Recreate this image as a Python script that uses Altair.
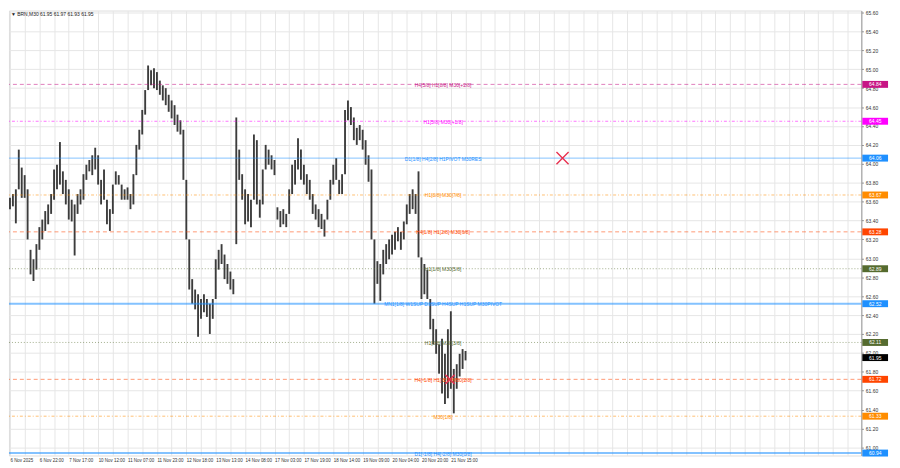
import json
import altair as alt
import pandas as pd

# ---------------- data ----------------
# M30 candles (grouped), highs and lows in price units, oldest -> newest
bar_hi = [63.64, 63.68, 63.73, 64.15, 63.96, 63.88, 63.73, 63.09, 62.99, 63.15,
          63.33, 63.41, 63.50, 63.57, 63.68, 63.94, 63.99, 64.23, 63.92, 63.83,
          63.73, 63.62, 63.57, 63.68, 63.73, 63.89, 63.99, 64.04, 64.09, 64.17,
          64.09, 63.83, 63.94, 63.62, 63.52, 63.78, 63.92, 63.88, 63.78, 63.73,
          63.75, 63.68, 63.89, 64.20, 64.36, 64.57, 64.78, 65.04, 64.99, 65.01,
          64.97, 64.88, 64.83, 64.80, 64.73, 64.67, 64.62, 64.52, 64.46, 64.36,
          63.83, 63.20, 62.78, 62.67, 62.62, 62.57, 62.62, 62.57, 62.52, 62.57,
          62.99, 63.09, 63.15, 63.04, 62.94, 62.86, 62.78, 64.49, 64.15, 63.89,
          63.73, 63.68, 63.62, 64.31, 64.25, 63.62, 63.94, 64.20, 64.15, 64.09,
          64.04, 63.54, 63.50, 63.52, 63.47, 63.73, 63.99, 64.04, 64.27, 64.15,
          63.99, 63.89, 63.83, 63.68, 63.57, 63.52, 63.47, 63.41, 63.62, 63.83,
          63.99, 64.06, 63.83, 63.89, 64.57, 64.67, 64.60, 64.49, 64.38, 64.41,
          64.36, 64.25, 64.09, 63.94, 63.20, 62.97, 62.94, 63.09, 63.15, 63.20,
          63.25, 63.28, 63.33, 63.28, 63.39, 63.57, 63.68, 63.73, 63.68, 63.92,
          63.01, 62.94, 62.88, 62.57, 62.36, 62.25, 62.09, 62.15, 61.99, 62.25,
          62.44, 61.83, 61.88, 61.99, 62.04, 62.02]
bar_lo = [63.52, 63.55, 63.37, 63.73, 63.64, 63.64, 63.20, 62.83, 62.76, 62.88,
          63.09, 63.20, 63.29, 63.36, 63.47, 63.62, 63.73, 63.78, 63.68, 63.57,
          63.41, 63.39, 63.03, 63.47, 63.57, 63.62, 63.83, 63.92, 63.88, 63.94,
          63.78, 63.57, 63.62, 63.36, 63.29, 63.47, 63.78, 63.78, 63.62, 63.62,
          63.62, 63.52, 63.57, 63.88, 64.15, 64.31, 64.52, 64.78, 64.83, 64.80,
          64.78, 64.73, 64.67, 64.62, 64.55, 64.48, 64.41, 64.34, 64.31, 63.83,
          63.20, 62.67, 62.52, 62.46, 62.17, 62.36, 62.43, 62.38, 62.20, 62.36,
          62.57, 62.88, 62.94, 62.78, 62.73, 62.67, 62.62, 63.15, 63.83, 63.62,
          63.36, 63.39, 63.33, 63.62, 63.57, 63.43, 63.57, 63.94, 63.99, 63.94,
          63.88, 63.41, 63.33, 63.36, 63.33, 63.47, 63.68, 63.78, 63.94, 63.83,
          63.78, 63.68, 63.62, 63.47, 63.41, 63.33, 63.31, 63.23, 63.41, 63.62,
          63.78, 63.83, 63.68, 63.68, 63.89, 64.46, 64.41, 64.25, 64.20, 64.25,
          64.15, 63.99, 63.81, 63.20, 62.52, 62.73, 62.55, 62.83, 62.94, 62.99,
          63.04, 63.09, 63.18, 63.09, 63.20, 63.36, 63.47, 63.52, 63.47, 63.01,
          62.57, 62.62, 62.57, 62.25, 62.09, 61.99, 61.78, 61.57, 61.46, 61.52,
          61.62, 61.36, 61.62, 61.75, 61.83, 61.92]

time_labels = ["6 Nov 2025", "6 Nov 22:00", "7 Nov 17:00", "10 Nov 12:00",
               "11 Nov 07:00", "11 Nov 23:00", "12 Nov 18:00", "13 Nov 13:00",
               "14 Nov 08:00", "17 Nov 03:00", "17 Nov 19:00", "18 Nov 14:00",
               "19 Nov 09:00", "20 Nov 04:00", "20 Nov 20:00", "21 Nov 15:00"]

level_prices = [64.84, 64.45, 64.06, 63.67, 63.28, 62.89, 62.52, 62.11, 61.72, 61.33, 60.94]
level_names = ["H4[5/8] H1[8/8] M30[+2/8]",
               "H1[5/8] M30[+1/8]",
               "D1[1/8] H4[2/8] H1PIVOT M30RES",
               "H1[3/8] M30[7/8]",
               "H4[1/8] H1[2/8] M30[6/8]",
               "H1[1/8] M30[5/8]",
               "MN1[1/8] W1SUP D1SUP H4SUP H1SUP M30PIVOT",
               "H1[0/8] M30[3/8]",
               "H4[-1/8] H1[-1/8] M30[2/8]",
               "M30[1/8]",
               "D1[-1/8] H4[-2/8] M30[0/8]"]
level_colors = ["#C71585", "#FF00FF", "#1E90FF", "#FF8C00", "#FF4500", "#556B2F",
                "#1E90FF", "#556B2F", "#FF4500", "#FF8C00", "#1E90FF"]
level_dash = [[4, 3], [3, 2, 1, 2], [], [3, 2, 1, 2], [4, 3], [1, 2],
              [], [1, 2], [4, 3], [3, 2, 1, 2], []]
level_width = [1, 1, 1, 1, 1, 1, 2, 1, 1, 1, 2]

current_price = 61.95
title_text = "BRN,M30  61.95 61.97 61.93 61.95"

cross_bar = [188.0, 149.7]
cross_price = [64.06, 61.72]
cross_size = [150, 90]

# ---------------- chart ----------------
W, H = 862, 450
X_DOM = [-1 / 3, 289.67]
Y_DOM = [60.914, 65.621]
FONT = "Liberation Sans"

bars = pd.DataFrame({"i": list(range(len(bar_hi))), "hi": bar_hi, "lo": bar_lo})
levels = pd.DataFrame({"p": level_prices, "name": level_names, "c": level_colors})
crosses = pd.DataFrame({"i": cross_bar, "p": cross_price, "s": cross_size})

xs = alt.Scale(domain=X_DOM, nice=False, zero=False)
ys = alt.Scale(domain=Y_DOM, nice=False, zero=False)

label_expr = ("datum.value % 10 == 0 ? (" + json.dumps(time_labels) +
              "[datum.value / 10] || '') : ''")

x_axis = alt.Axis(values=list(range(0, 290, 5)), labelExpr=label_expr, grid=True,
                  gridColor="#e6e6e6", gridWidth=1, ticks=False, domain=False,
                  labelAlign="left", labelFontSize=4.5, labelColor="#333",
                  labelFont=FONT, labelPadding=2, labelOverlap=False, title=None,
                  labelFlush=False)
y_axis = alt.Axis(orient="right", values=[round(61.0 + 0.2 * k, 2) for k in range(24)],
                  format=".2f", grid=True, gridColor="#e6e6e6", gridWidth=1,
                  tickSize=2, tickColor="#888", domainColor="#999",
                  labelFontSize=5, labelColor="#333", labelFont=FONT,
                  labelPadding=2, labelOverlap=False, title=None)


def X(field):
    return alt.X(field, scale=xs, axis=x_axis)


def Y(field):
    return alt.Y(field, scale=ys, axis=y_axis)


candles = alt.Chart(bars).mark_rule(color="#3c3c3c", strokeWidth=1.9).encode(
    x=X("i:Q"), y=Y("lo:Q"), y2="hi:Q",
)

layers = []
for p, col, dash, wdt in zip(level_prices, level_colors, level_dash, level_width):
    kw = dict(color=col, strokeWidth=wdt, opacity=0.55)
    if dash:
        kw["strokeDash"] = dash
    layers.append(alt.Chart(pd.DataFrame({"p": [p]})).mark_rule(**kw).encode(
        y=Y("p:Q")))

level_text = alt.Chart(levels).mark_text(fontSize=5, font=FONT, baseline="middle",
                                          align="center", dy=0.5).encode(
    x=alt.value(439),
    y=Y("p:Q"),
    text="name:N",
    color=alt.Color("c:N", scale=None),
)

badge_df = pd.DataFrame({"p": level_prices + [current_price],
                         "c": level_colors + ["#000000"]})
badges = alt.Chart(badge_df).mark_rule(strokeWidth=7).encode(
    x=alt.value(863), x2=alt.value(889),
    y=Y("p:Q"),
    color=alt.Color("c:N", scale=None),
)
badge_text = alt.Chart(badge_df).mark_text(fontSize=5, font=FONT, color="white",
                                           baseline="middle", align="center").encode(
    x=alt.value(876),
    y=Y("p:Q"),
    text=alt.Text("p:Q", format=".2f"),
)

cross_marks = alt.Chart(crosses).mark_point(
    shape="M-1,-1L1,1M-1,1L1,-1", filled=False, color="#E8304F", strokeWidth=1.4,
    opacity=1).encode(
    x=X("i:Q"),
    y=Y("p:Q"),
    size=alt.Size("s:Q", scale=None),
)

title_mark = alt.Chart(pd.DataFrame({"t": ["\u25BC " + title_text]})).mark_text(
    fontSize=5, font=FONT, color="#222", align="left", baseline="middle").encode(
    x=alt.value(2), y=alt.value(4), text="t:N")

chart = alt.layer(candles, *layers, level_text, badges, badge_text, cross_marks,
                  title_mark).properties(
    width=W, height=H, padding=0,
).configure_view(stroke="#a8a8a8", strokeWidth=1).configure(background="white")

chart.save("out.html", embed_options={"renderer": "svg", "actions": False})
